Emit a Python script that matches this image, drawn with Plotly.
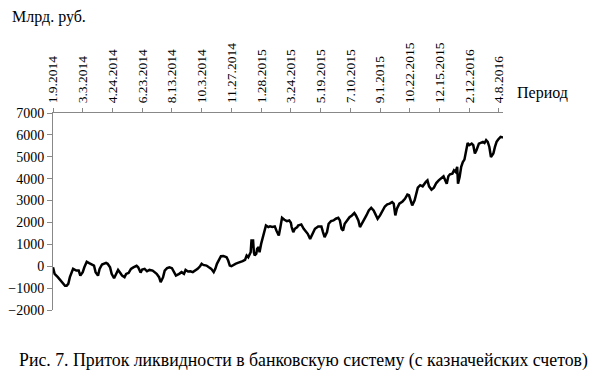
import plotly.graph_objects as go

# Trading-day index (category position) and liquidity inflow, bn RUB
day_index = [0, 2, 6, 10, 12, 15, 17, 19, 21, 23, 25, 29, 32, 34, 37, 39, 42, 45, 48, 51,
             53, 56, 58, 61, 66, 68, 71, 73, 76, 79, 81, 84, 86, 89, 91, 94, 97, 100, 104, 106,
             109, 111, 114, 117, 120, 124, 127, 129, 132, 134, 137, 139, 142, 145, 148, 151, 153, 157, 160, 163,
             165, 168, 171, 174, 178, 180, 183, 185, 187, 191, 194, 197, 200, 202, 204, 207, 209, 212, 216, 218,
             220, 222, 224, 227, 230, 233, 236, 239, 241, 243, 246, 247, 249, 250, 251, 253, 254, 256, 257, 259,
             261, 263, 265, 268, 270, 273, 276, 278, 281, 283, 285, 288, 291, 294, 296, 297, 299, 301, 304, 305,
             309, 312, 315, 317, 320, 323, 326, 330, 334, 336, 338, 341, 343, 346, 349, 352, 355, 357, 359, 361,
             363, 366, 369, 372, 375, 377, 380, 382, 384, 387, 390, 393, 396, 399, 402, 404, 407, 410, 413, 416,
             419, 422, 424, 426, 428, 431, 435, 438, 441, 443, 445, 447, 450, 452, 454, 457, 460, 464, 466, 468,
             471, 474, 477, 480, 483, 486, 489, 490, 492, 494, 497, 499, 501, 503, 504, 506, 508, 510, 512, 514,
             516, 518, 521, 523, 525, 527, 530, 533, 535, 537, 539, 541, 543, 545, 548, 550, 552, 554, 557, 560]

inflow = [-50, -350, -500, -660, -730, -890, -890, -810, -500, -270, -120, -200, -200, -430, -270, -50, 200, 140, 80, 30,
          -270, -430, -120, 80, 150, 110, -50, -350, -550, -270, -170, -320, -430, -500, -350, -310, -120, -50, 20, -50,
          -290, -150, -120, -230, -170, -200, -270, -350, -500, -730, -500, -200, -90, -50, -90, -270, -430, -350, -270, -350,
          -170, -240, -230, -270, -170, -120, 0, 110, 60, 30, -50, -120, -270, -120, 110, 340, 460, 470, 410, 260,
          30, 0, 60, 110, 150, 180, 230, 290, 490, 410, 640, 1180, 1180, 640, 490, 570, 790, 870, 640, 1020,
          1330, 1630, 1860, 1790, 1820, 1790, 1820, 1630, 1400, 1790, 2210, 2120, 2060, 2090, 1990, 1790, 1560, 1710, 1790, 1860,
          1910, 1710, 1560, 1480, 1250, 1480, 1710, 1820, 1820, 1560, 1330, 1560, 1940, 2060, 2090, 2170, 2210, 2090, 1710, 1630,
          1940, 2090, 2240, 2320, 2430, 2320, 2090, 1790, 1910, 2090, 2320, 2550, 2670, 2550, 2320, 2170, 2320, 2550, 2730, 2830,
          2860, 2930, 2860, 2320, 2630, 2860, 2960, 3080, 3270, 3240, 3010, 2780, 3010, 3310, 3590, 3700, 3650, 3850, 3920, 3650,
          3500, 3590, 3800, 3920, 4000, 4110, 3850, 3770, 4110, 4200, 4230, 4380, 4310, 4540, 3770, 4080, 4540, 4760, 4870, 5300,
          5630, 5530, 5600, 5530, 5150, 5300, 5600, 5650, 5680, 5630, 5760, 5680, 5450, 4990, 5150, 5450, 5680, 5790, 5910, 5880]

tick_positions = [0, 37, 74, 111, 148, 185, 222, 259, 296, 333, 370, 407, 444, 481, 518, 555]
tick_labels = ["1.9.2014", "3.3.2014", "4.24.2014", "6.23.2014", "8.13.2014", "10.3.2014",
               "11.27.2014", "1.28.2015", "3.24.2015", "5.19.2015", "7.10.2015", "9.1.2015",
               "10.22.2015", "12.15.2015", "2.12.2016", "4.8.2016"]
y_ticks = [-2000, -1000, 0, 1000, 2000, 3000, 4000, 5000, 6000, 7000]

FONT = "Liberation Serif"

fig = go.Figure()
fig.add_trace(go.Scatter(x=day_index, y=inflow, mode="lines",
                         line=dict(color="black", width=2.5), showlegend=False))

fig.update_layout(
    width=595, height=383,
    margin=dict(l=53, r=92, t=113, b=73),
    paper_bgcolor="white", plot_bgcolor="white",
    font=dict(family=FONT, color="black", size=14),
    xaxis=dict(
        side="top", range=[0, 560], tickmode="array", automargin=False,
        tickvals=tick_positions, ticktext=tick_labels, tickangle=-90,
        ticks="outside", ticklen=4, tickcolor="#888", showline=True,
        linecolor="#888", linewidth=1, showgrid=False, zeroline=False,
        tickfont=dict(family=FONT, size=13.5, color="black"),
        ticklabelstandoff=2,
    ),
    yaxis=dict(
        range=[-2000, 7000], tickmode="array", tickvals=y_ticks, automargin=False,
        ticks="outside", ticklen=5, tickcolor="#888", showline=True,
        linecolor="#888", linewidth=1, showgrid=False, zeroline=False,
        tickfont=dict(family=FONT, size=14, color="black"),
        ticklabelstandoff=0,
    ),
    annotations=[
        dict(text="Млрд. руб.", xref="paper", yref="paper", x=-53/450, y=1 + 96/197,
             xanchor="left", yanchor="middle", showarrow=False,
             font=dict(family=FONT, size=16, color="black"), xshift=10),
        dict(text="Период", xref="paper", yref="paper", x=1, y=1 + 20/197,
             xanchor="left", yanchor="middle", showarrow=False,
             font=dict(family=FONT, size=16, color="black"), xshift=12),
        dict(text="Рис. 7. Приток ликвидности в банковскую систему (с казначейских счетов)",
             xref="paper", yref="paper", x=-53/450, y=-50/197,
             xanchor="left", yanchor="middle", showarrow=False,
             font=dict(family=FONT, size=17.8, color="black"), xshift=17),
    ],
)

fig.write_html("out.html", config={"displayModeBar": False},
               post_script="document.body.style.margin='0';")
